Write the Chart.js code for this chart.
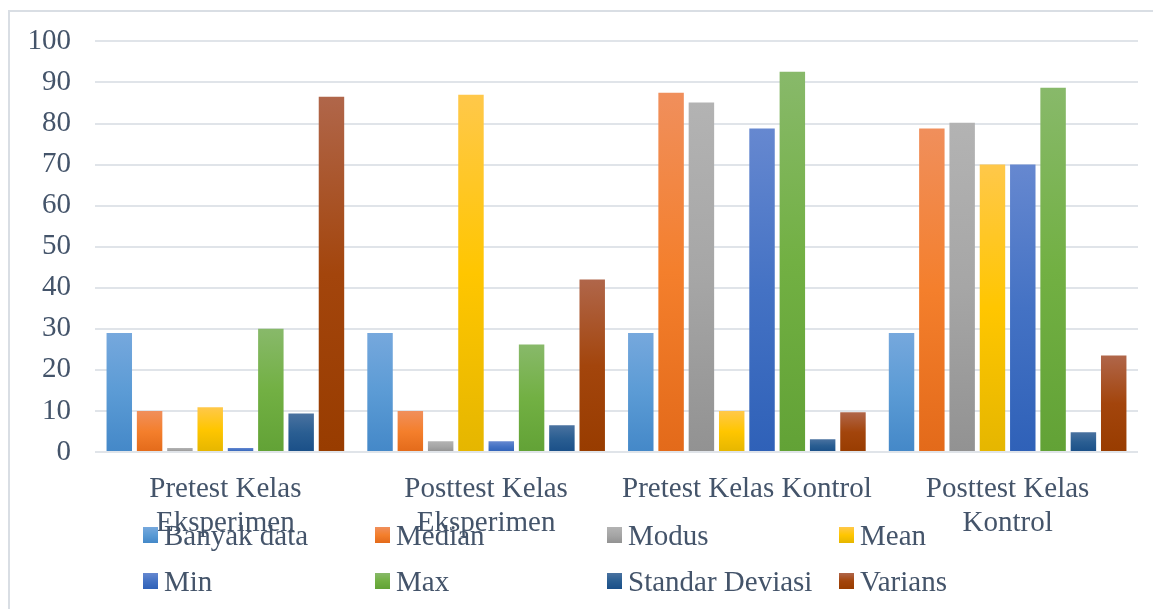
<!DOCTYPE html>
<html>
<head>
<meta charset="utf-8" />
<title>Statistik Kelas</title>
<script src="https://cdn.jsdelivr.net/npm/chart.js@4.4.1/dist/chart.umd.min.js"></script>
<style>
  html, body { margin: 0; padding: 0; background: #fff; overflow: hidden; }
  .stage { position: relative; width: 1153px; height: 609px; }
  .frame {
    position: absolute; left: 8px; top: 10px; width: 1160px; height: 620px;
    border: 2px solid #d9dee4; box-sizing: border-box;
  }
  #chart { position: absolute; left: 0; top: 0; }
  .legend {
    position: absolute; left: 143px; top: 512px;
    display: grid; grid-template-columns: repeat(4, 232px); grid-auto-rows: 46px;
    font-family: 'Liberation Serif', 'Times New Roman', serif; font-size: 29px; color: #44546a;
  }
  .legend-item { display: flex; align-items: center; white-space: nowrap; }
  .legend-item .box { width: 15px; height: 16px; margin-right: 6px; flex: none; }
</style>
</head>
<body>
<div class="stage">
  <div class="frame"></div>
  <canvas id="chart" width="1153" height="609"></canvas>
  <div class="legend" id="legend"></div>
</div>
<script>
const categories = [
  ['Pretest Kelas', 'Eksperimen'],
  ['Posttest Kelas', 'Eksperimen'],
  'Pretest Kelas Kontrol',
  ['Posttest Kelas', 'Kontrol']
];
const seriesNames = ['Banyak data', 'Median', 'Modus', 'Mean', 'Min', 'Max', 'Standar Deviasi', 'Varians'];

const banyakData = [29, 29, 29, 29];
const median = [10, 10, 87.5, 78.8];
const modus = [1, 2.6, 85.1, 80.2];
const mean = [10.9, 87, 10, 70];
const minVal = [1, 2.6, 78.8, 70];
const maxVal = [30, 26.2, 92.6, 88.7];
const stdDev = [9.4, 6.5, 3.1, 4.8];
const varians = [86.5, 42, 9.7, 23.5];

const yTicks = [0, 10, 20, 30, 40, 50, 60, 70, 80, 90, 100];

// top / middle / bottom of each bar's gradient
const palette = [
  ['#76a8dd', '#5b9bd5', '#4488c8'],
  ['#f08f5c', '#f47f2c', '#e36a1a'],
  ['#b3b3b3', '#a6a6a6', '#929292'],
  ['#ffc84a', '#ffc600', '#e5b600'],
  ['#6688d0', '#4472c4', '#2f61b8'],
  ['#88b96a', '#72b043', '#62a236'],
  ['#4a72a0', '#2a5e92', '#1a4f88'],
  ['#b0664a', '#a3450c', '#983c00']
];

const seriesValues = [banyakData, median, modus, mean, minVal, maxVal, stdDev, varians];
const textColor = '#44546a';
const serif = "'Liberation Serif', 'Times New Roman', serif";

function barGradient(ctx, stops) {
  const chart = ctx.chart;
  if (!chart.chartArea || ctx.type !== 'data' || !ctx.parsed) return stops[1];
  const y = chart.scales.y;
  const top = y.getPixelForValue(ctx.parsed.y);
  const base = y.getPixelForValue(0);
  if (!(top < base)) return stops[1];
  const g = chart.ctx.createLinearGradient(0, top, 0, base);
  g.addColorStop(0, stops[0]);
  g.addColorStop(0.5, stops[1]);
  g.addColorStop(1, stops[2]);
  return g;
}

new Chart(document.getElementById('chart'), {
  type: 'bar',
  data: {
    labels: categories,
    datasets: seriesNames.map((name, i) => ({
      label: name,
      data: seriesValues[i],
      backgroundColor: (ctx) => barGradient(ctx, palette[i]),
      borderWidth: 0,
      categoryPercentage: 0.93,
      barPercentage: 0.84
    }))
  },
  options: {
    responsive: false,
    animation: false,
    layout: { padding: { top: 41, right: 15, bottom: 0, left: 0 } },
    plugins: { legend: { display: false }, tooltip: { enabled: false } },
    scales: {
      x: {
        grid: { display: false },
        border: { display: false },
        ticks: {
          color: textColor,
          font: { family: serif, size: 29, lineHeight: 1.17 },
          padding: 12,
          maxRotation: 0,
          minRotation: 0,
          autoSkip: false
        },
        afterFit: (scale) => { scale.height = 157; }
      },
      y: {
        min: 0,
        max: 100,
        afterBuildTicks: (scale) => { scale.ticks = yTicks.map((v) => ({ value: v })); },
        grid: { color: '#e0e4e9', lineWidth: 2, drawTicks: false },
        border: { display: false },
        ticks: {
          color: textColor,
          font: { family: serif, size: 29 },
          padding: 24
        },
        afterFit: (scale) => { scale.width = 95; }
      }
    }
  }
});

document.getElementById('legend').innerHTML = seriesNames
  .map((name, i) => `<div class="legend-item"><span class="box" style="background:linear-gradient(${palette[i][0]}, ${palette[i][1]}, ${palette[i][2]})"></span>${name}</div>`)
  .join('');
</script>
</body>
</html>
